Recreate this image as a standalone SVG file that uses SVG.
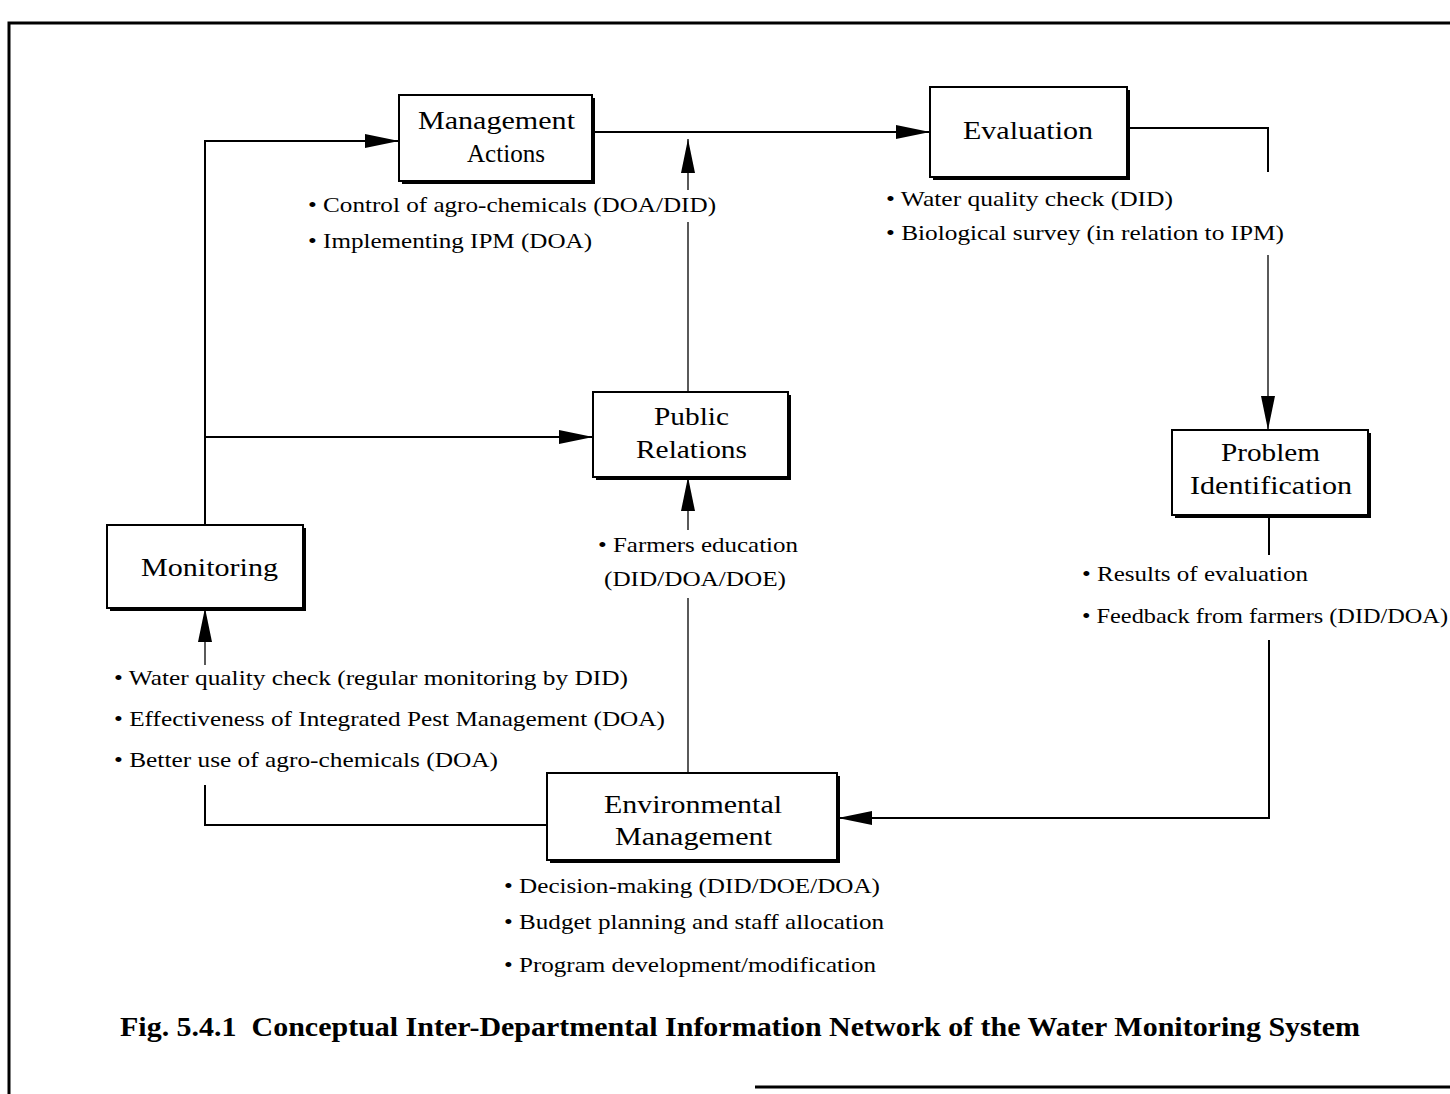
<svg xmlns="http://www.w3.org/2000/svg" width="1450" height="1094" viewBox="0 0 1450 1094">
  <defs>
    <style>
      .frame { stroke: #000; stroke-width: 3; fill: none; }
      .box { fill: #fff; stroke: #000; stroke-width: 2; }
      .shadow { fill: #000; }
      .conn { stroke: #000; stroke-width: 2; fill: none; }
      .thin { stroke: #000; stroke-width: 1.3; fill: none; }
      .lbl { font-family: "Liberation Serif", "Times New Roman", serif; font-size: 25px; fill: #000; }
      .note { font-family: "Liberation Serif", "Times New Roman", serif; font-size: 21px; fill: #000; }
      .title { font-family: "Liberation Serif", "Times New Roman", serif; font-size: 27px; font-weight: bold; fill: #000; }
    </style>
    <marker id="arr" viewBox="0 0 34 14" markerWidth="34" markerHeight="14" refX="34" refY="7" orient="auto" markerUnits="userSpaceOnUse">
      <path d="M0,0 L34,7 L0,14 Z" fill="#000"/>
    </marker>
  </defs>
  <rect x="0" y="0" width="1450" height="1094" fill="#fff"/>

  <!-- frame -->
  <g id="frame">
    <path class="frame" d="M9,1094 V23 H1450"/>
    <path class="frame" d="M755,1087 H1450" stroke-width="3.5"/>
  </g>

  <!-- connectors -->
  <g id="connectors">
    <path class="conn" d="M205,525 V141 H399" marker-end="url(#arr)"/>
    <path class="conn" d="M205,437 H593" marker-end="url(#arr)"/>
    <path class="conn" d="M594,132 H930" marker-end="url(#arr)"/>
    <path class="conn" d="M1127,128 H1268 V172"/>
    <path class="thin" d="M1268,255 V430" marker-end="url(#arr)"/>
    <path class="conn" d="M1269,515 V555"/>
    <path class="conn" d="M1269,640 V818 H838" marker-end="url(#arr)"/>
    <path class="conn" d="M547,825 H205 V785"/>
    <path class="thin" d="M688,773 V598"/>
    <path class="thin" d="M688,530 V477" marker-end="url(#arr)"/>
    <path class="thin" d="M688,392 V222"/>
    <path class="thin" d="M688,190 V139" marker-end="url(#arr)"/>
    <path class="thin" d="M205,665 V608" marker-end="url(#arr)"/>
  </g>

  <!-- nodes -->
  <g id="management-actions">
    <rect class="shadow" x="402" y="98" width="193" height="86"/>
    <rect class="box" x="399" y="95" width="193" height="86"/>
    <text class="lbl" x="418" y="129" textLength="157" lengthAdjust="spacingAndGlyphs">Management</text>
    <text class="lbl" x="467" y="162" textLength="78" lengthAdjust="spacingAndGlyphs">Actions</text>
  </g>
  <g id="evaluation">
    <rect class="shadow" x="933" y="90" width="197" height="90"/>
    <rect class="box" x="930" y="87" width="197" height="90"/>
    <text class="lbl" x="963" y="139" textLength="130" lengthAdjust="spacingAndGlyphs">Evaluation</text>
  </g>
  <g id="public-relations">
    <rect class="shadow" x="596" y="395" width="195" height="85"/>
    <rect class="box" x="593" y="392" width="195" height="85"/>
    <text class="lbl" x="654" y="425" textLength="75" lengthAdjust="spacingAndGlyphs">Public</text>
    <text class="lbl" x="636" y="458" textLength="111" lengthAdjust="spacingAndGlyphs">Relations</text>
  </g>
  <g id="problem-identification">
    <rect class="shadow" x="1175" y="433" width="196" height="85"/>
    <rect class="box" x="1172" y="430" width="196" height="85"/>
    <text class="lbl" x="1221" y="461" textLength="99" lengthAdjust="spacingAndGlyphs">Problem</text>
    <text class="lbl" x="1190" y="494" textLength="162" lengthAdjust="spacingAndGlyphs">Identification</text>
  </g>
  <g id="monitoring">
    <rect class="shadow" x="110" y="528" width="196" height="83"/>
    <rect class="box" x="107" y="525" width="196" height="83"/>
    <text class="lbl" x="141" y="576" textLength="137" lengthAdjust="spacingAndGlyphs">Monitoring</text>
  </g>
  <g id="environmental-management">
    <rect class="shadow" x="550" y="776" width="290" height="87"/>
    <rect class="box" x="547" y="773" width="290" height="87"/>
    <text class="lbl" x="604" y="813" textLength="178" lengthAdjust="spacingAndGlyphs">Environmental</text>
    <text class="lbl" x="615" y="845" textLength="157" lengthAdjust="spacingAndGlyphs">Management</text>
  </g>

  <!-- notes -->
  <g id="notes">
    <text class="note" x="308" y="212" textLength="408" lengthAdjust="spacingAndGlyphs">• Control of agro-chemicals (DOA/DID)</text>
    <text class="note" x="308" y="248" textLength="284" lengthAdjust="spacingAndGlyphs">• Implementing IPM (DOA)</text>
    <text class="note" x="886" y="206" textLength="287" lengthAdjust="spacingAndGlyphs">• Water quality check (DID)</text>
    <text class="note" x="886" y="240" textLength="398" lengthAdjust="spacingAndGlyphs">• Biological survey (in relation to IPM)</text>
    <text class="note" x="598" y="552" textLength="200" lengthAdjust="spacingAndGlyphs">• Farmers education</text>
    <text class="note" x="604" y="586" textLength="182" lengthAdjust="spacingAndGlyphs">(DID/DOA/DOE)</text>
    <text class="note" x="1082" y="581" textLength="226" lengthAdjust="spacingAndGlyphs">• Results of evaluation</text>
    <text class="note" x="1082" y="623" textLength="366" lengthAdjust="spacingAndGlyphs">• Feedback from farmers (DID/DOA)</text>
    <text class="note" x="114" y="685" textLength="514" lengthAdjust="spacingAndGlyphs">• Water quality check (regular monitoring by DID)</text>
    <text class="note" x="114" y="726" textLength="551" lengthAdjust="spacingAndGlyphs">• Effectiveness of Integrated Pest Management (DOA)</text>
    <text class="note" x="114" y="767" textLength="384" lengthAdjust="spacingAndGlyphs">• Better use of agro-chemicals (DOA)</text>
    <text class="note" x="504" y="893" textLength="376" lengthAdjust="spacingAndGlyphs">• Decision-making (DID/DOE/DOA)</text>
    <text class="note" x="504" y="929" textLength="380" lengthAdjust="spacingAndGlyphs">• Budget planning and staff allocation</text>
    <text class="note" x="504" y="972" textLength="372" lengthAdjust="spacingAndGlyphs">• Program development/modification</text>
  </g>

  <text class="title" x="120" y="1036" textLength="1240" lengthAdjust="spacingAndGlyphs">Fig. 5.4.1&#160; Conceptual Inter-Departmental Information Network of the Water Monitoring System</text>
</svg>
